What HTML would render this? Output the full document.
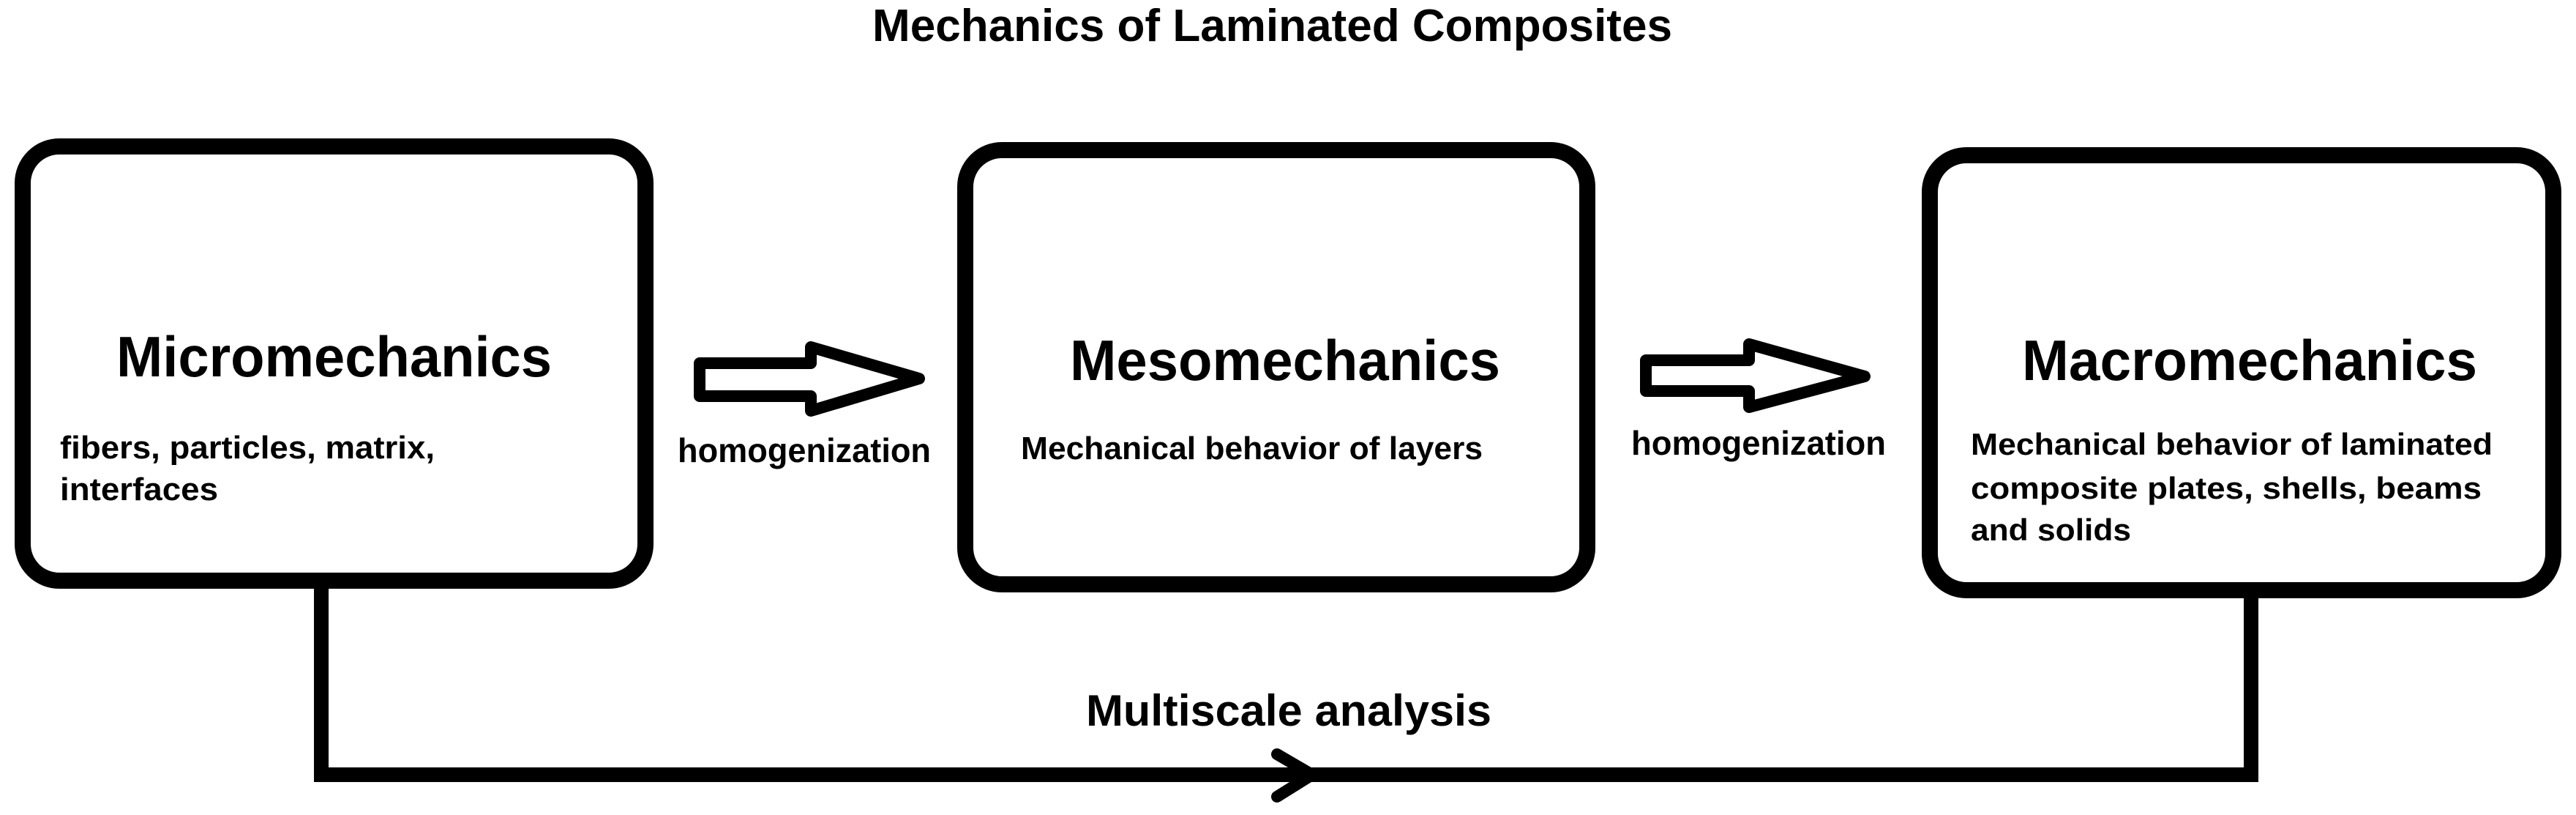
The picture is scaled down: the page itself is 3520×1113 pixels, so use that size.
<!DOCTYPE html>
<html><head><meta charset="utf-8"><style>html,body{margin:0;padding:0;background:#fff}svg{display:block}</style></head>
<body>
<svg width="3520" height="1113" viewBox="0 0 3520 1113" xmlns="http://www.w3.org/2000/svg" font-family="Liberation Sans, Arial, sans-serif" font-weight="bold" fill="#000">
<rect width="3520" height="1113" fill="#fff"/>
<text x="1192" y="56" font-size="62" textLength="1093" lengthAdjust="spacingAndGlyphs">Mechanics of Laminated Composites</text>
<g fill="none" stroke="#000" stroke-width="22">
<rect x="31" y="200" width="851" height="593" rx="50"/>
<rect x="1319" y="205" width="850" height="593" rx="50"/>
<rect x="2637" y="212" width="852" height="594" rx="50"/>
<polyline points="439,803 439,1058 3076,1058 3076,816" stroke-width="20"/>
<polyline points="1745,1030 1793,1058 1745,1088" stroke-width="16" stroke-linecap="round" stroke-linejoin="round"/>
</g>
<g fill="#fff" stroke="#000" stroke-width="16" stroke-linejoin="round">
<polygon points="956,496 1108,496 1108,474 1256,517 1108,561 1108,541 956,541"/>
<polygon points="2249,492 2390,492 2390,470 2548,514 2390,556 2390,534 2249,534"/>
</g>
<text x="159" y="514" font-size="78" textLength="595" lengthAdjust="spacingAndGlyphs">Micromechanics</text>
<text x="82" y="626" font-size="44" textLength="512" lengthAdjust="spacingAndGlyphs">fibers, particles, matrix,</text>
<text x="82" y="683" font-size="44" textLength="216" lengthAdjust="spacingAndGlyphs">interfaces</text>
<text x="926" y="631" font-size="46" textLength="346" lengthAdjust="spacingAndGlyphs">homogenization</text>
<text x="1462" y="519" font-size="78" textLength="588" lengthAdjust="spacingAndGlyphs">Mesomechanics</text>
<text x="1395" y="627" font-size="44" textLength="631" lengthAdjust="spacingAndGlyphs">Mechanical behavior of layers</text>
<text x="2229" y="621" font-size="46" textLength="348" lengthAdjust="spacingAndGlyphs">homogenization</text>
<text x="2763" y="519" font-size="78" textLength="622" lengthAdjust="spacingAndGlyphs">Macromechanics</text>
<text x="2693" y="621" font-size="42" textLength="713" lengthAdjust="spacingAndGlyphs">Mechanical behavior of laminated</text>
<text x="2693" y="681" font-size="42" textLength="698" lengthAdjust="spacingAndGlyphs">composite plates, shells, beams</text>
<text x="2693" y="738" font-size="42" textLength="219" lengthAdjust="spacingAndGlyphs">and solids</text>
<text x="1484" y="991" font-size="60" textLength="554" lengthAdjust="spacingAndGlyphs">Multiscale analysis</text>
</svg>
</body></html>
